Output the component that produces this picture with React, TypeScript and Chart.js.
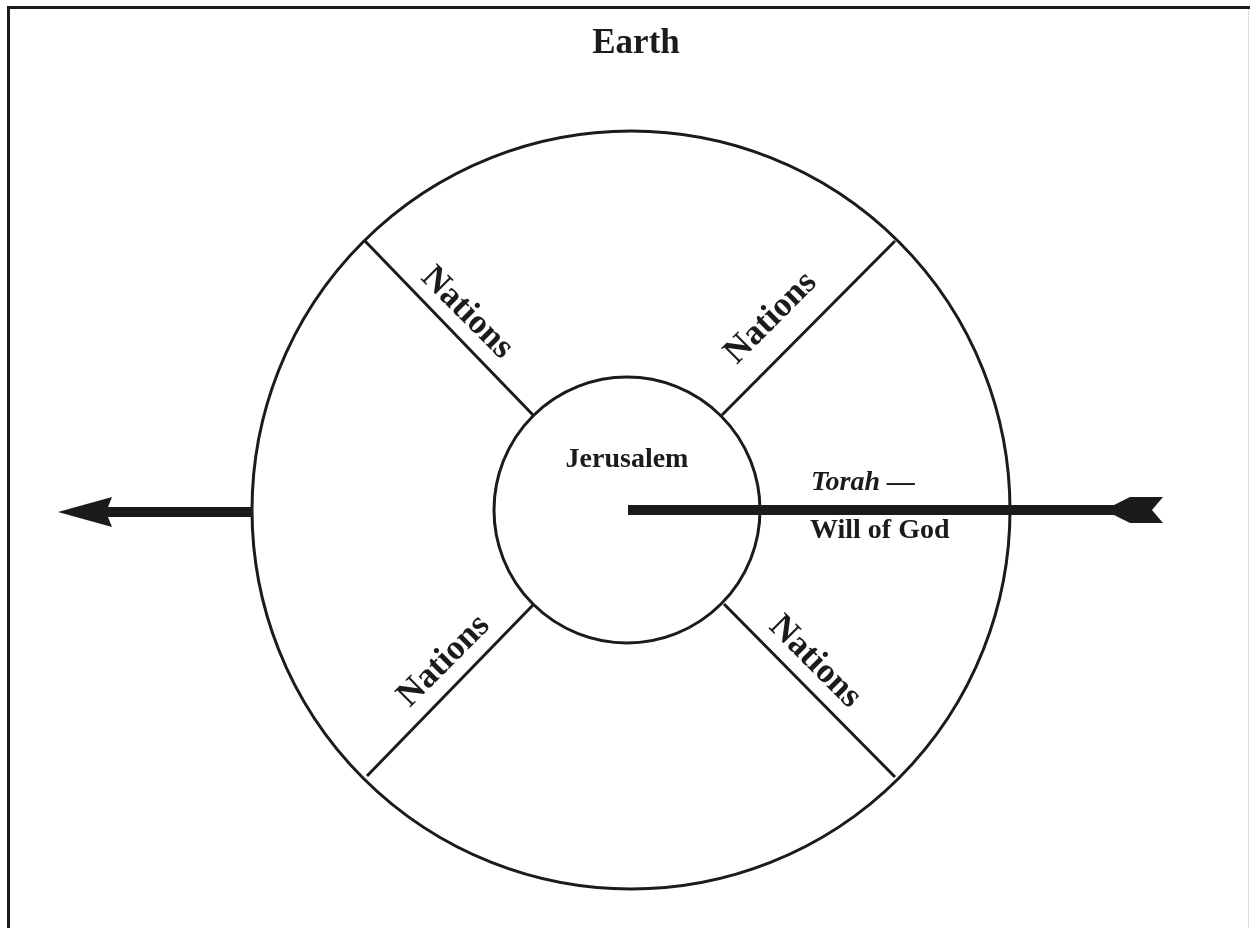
import React, { useEffect, useRef } from "react";
import { Chart, registerables } from "chart.js";

Chart.register(...registerables);

// Diagram coordinates: origin at the centre of the Earth circle, y upwards.
const circleX = [1, -3];
const circleY = [0, 0];
const circleR = [379, 133];

const spokeInnerX = [-97, 92, -97, 94];
const spokeInnerY = [95, 95, -95, -94];
const spokeOuterX = [-265, 265, -263, 265];
const spokeOuterY = [269, 269, -266, -267];

const leftShaftX = [-378, -525];
const leftShaftY = [-2, -2];
const rightShaftX = [-2, 488];
const rightShaftY = [0, 0];

const arrowHeadX = [-572, -518, -524, -518];
const arrowHeadY = [-2, 13, -2, -17];
const fletchX = [484, 500, 533, 522, 533, 500, 484];
const fletchY = [5, 13, 13, 0, -13, -13, -5];

const labelTexts = ["Earth", "Jerusalem", "Torah \u2014", "Will of God", "Nations", "Nations", "Nations", "Nations"];
const labelX = [6, -3, 181, 180, -163, 141, -186, 185];
const labelY = [457, 43, 20, -28, 197, 192, -151, -152];
const labelRot = [0, 0, 0, 0, 45, -45, -45, 45];

const INK = "#1b1b1b";

const labelStyle = [
  { font: "bold 35px 'Liberation Serif', 'Times New Roman', serif", align: "center" },
  { font: "bold 28px 'Liberation Serif', 'Times New Roman', serif", align: "center" },
  { font: "italic bold 28px 'Liberation Serif', 'Times New Roman', serif", align: "left" },
  { font: "bold 28px 'Liberation Serif', 'Times New Roman', serif", align: "left" },
  { font: "bold 35px 'Liberation Serif', 'Times New Roman', serif", align: "center" },
  { font: "bold 35px 'Liberation Serif', 'Times New Roman', serif", align: "center" },
  { font: "bold 35px 'Liberation Serif', 'Times New Roman', serif", align: "center" },
  { font: "bold 35px 'Liberation Serif', 'Times New Roman', serif", align: "center" },
];

const pts = (xs: number[], ys: number[]) => xs.map((x, i) => ({ x, y: ys[i] }));

const diagramPlugin = {
  id: "diagram",
  beforeDatasetsDraw(chart: any) {
    const ctx = chart.ctx;
    const sx = chart.scales.x;
    const sy = chart.scales.y;
    ctx.save();
    // frame
    ctx.strokeStyle = INK;
    ctx.lineWidth = 3;
    ctx.beginPath();
    ctx.moveTo(8.5, chart.height);
    ctx.lineTo(8.5, 7.5);
    ctx.lineTo(chart.width, 7.5);
    ctx.stroke();
    ctx.strokeStyle = "#d8d8d8";
    ctx.lineWidth = 1;
    ctx.beginPath();
    ctx.moveTo(chart.width - 1.5, 9);
    ctx.lineTo(chart.width - 1.5, chart.height);
    ctx.stroke();
    // circles
    ctx.strokeStyle = INK;
    ctx.lineWidth = 3;
    circleR.forEach((r, i) => {
      const px = sx.getPixelForValue(circleX[i]);
      const py = sy.getPixelForValue(circleY[i]);
      const pr = Math.abs(sx.getPixelForValue(circleX[i] + r) - px);
      ctx.beginPath();
      ctx.arc(px, py, pr, 0, Math.PI * 2);
      ctx.stroke();
    });
    ctx.restore();
  },
  afterDatasetsDraw(chart: any) {
    const ctx = chart.ctx;
    const sx = chart.scales.x;
    const sy = chart.scales.y;
    ctx.save();
    ctx.fillStyle = INK;
    [[arrowHeadX, arrowHeadY], [fletchX, fletchY]].forEach(([xs, ys]) => {
      ctx.beginPath();
      xs.forEach((x: number, i: number) => {
        const px = sx.getPixelForValue(x);
        const py = sy.getPixelForValue(ys[i]);
        if (i === 0) ctx.moveTo(px, py);
        else ctx.lineTo(px, py);
      });
      ctx.closePath();
      ctx.fill();
    });
    labelTexts.forEach((t, i) => {
      const px = sx.getPixelForValue(labelX[i]);
      const py = sy.getPixelForValue(labelY[i]);
      ctx.save();
      ctx.translate(px, py);
      ctx.rotate((labelRot[i] * Math.PI) / 180);
      ctx.font = labelStyle[i].font;
      ctx.textAlign = labelStyle[i].align;
      ctx.textBaseline = labelRot[i] === 0 ? "alphabetic" : "middle";
      ctx.fillStyle = INK;
      ctx.fillText(t, 0, 0);
      ctx.restore();
    });
    ctx.restore();
  },
};

export default function App() {
  const ref = useRef<HTMLCanvasElement | null>(null);
  useEffect(() => {
    if (!ref.current) return;
    const lineDs = (xs: number[], ys: number[], w: number) => ({
      data: pts(xs, ys),
      showLine: true,
      borderColor: INK,
      backgroundColor: INK,
      borderWidth: w,
      pointRadius: 0,
      fill: false,
      borderCapStyle: "butt",
    });
    const datasets: any[] = spokeInnerX.map((_, i) =>
      lineDs([spokeInnerX[i], spokeOuterX[i]], [spokeInnerY[i], spokeOuterY[i]], 3)
    );
    datasets.push(lineDs(leftShaftX, leftShaftY, 10));
    datasets.push(lineDs(rightShaftX, rightShaftY, 10));
    const chart = new Chart(ref.current, {
      type: "scatter",
      data: { datasets },
      options: {
        responsive: false,
        animation: false,
        devicePixelRatio: 1,
        events: [],
        layout: { padding: 0 },
        plugins: { legend: { display: false }, tooltip: { enabled: false }, title: { display: false } },
        scales: {
          x: { type: "linear", min: -630, max: 620, display: false },
          y: { type: "linear", min: -418, max: 510, display: false },
        },
      },
      plugins: [diagramPlugin],
    } as any);
    return () => chart.destroy();
  }, []);
  return (
    <div style={{ position: "absolute", left: 0, top: 0, width: 1250, height: 928, background: "#ffffff" }}>
      <canvas ref={ref} width={1250} height={928} style={{ display: "block", width: 1250, height: 928 }} />
    </div>
  );
}
